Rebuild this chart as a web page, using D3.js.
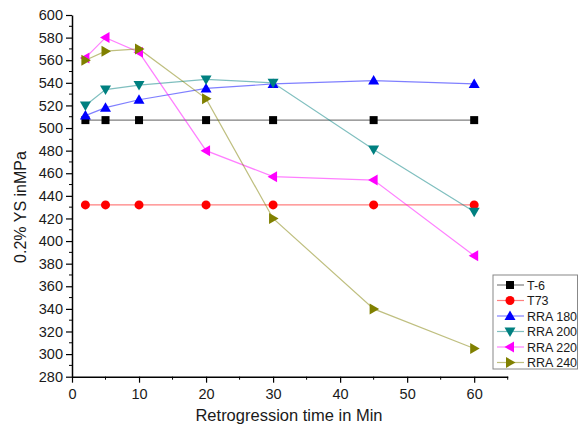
<!DOCTYPE html>
<html>
<head>
<meta charset="utf-8">
<script src="https://cdn.jsdelivr.net/npm/d3@7"></script>
<style>
  body { margin: 0; background: #fff; }
  text { font-family: "Liberation Sans", Arial, sans-serif; fill: #1a1a1a; }
</style>
</head>
<body>
<div id="container"></div>
<script>
let times = [2, 5, 10, 20, 30, 45, 60]
let t6 = [507, 507, 507, 507, 507, 507, 507]
let t73 = [432, 432, 432, 432, 432, 432, 432]
let rra180 = [511, 518, 525, 535, 539, 542, 539]
let rra200 = [520, 534, 538, 543, 540, 481, 426]
let rra220 = [562, 580, 567, 480, 457, 454, 387]
let rra240 = [560, 568, 570, 526, 420, 340, 305]
let seriesNames = ['T-6', 'T73', 'RRA 180', 'RRA 200', 'RRA 220', 'RRA 240']
let xTicks = [0, 10, 20, 30, 40, 50, 60]
let yTicks = d3.range(280, 601, 20)

let series = [
  { name: seriesNames[0], values: t6, color: '#000000', shape: 'square' },
  { name: seriesNames[1], values: t73, color: '#ff0000', shape: 'circle' },
  { name: seriesNames[2], values: rra180, color: '#0000ff', shape: 'up' },
  { name: seriesNames[3], values: rra200, color: '#008080', shape: 'down' },
  { name: seriesNames[4], values: rra220, color: '#ff00ff', shape: 'left' },
  { name: seriesNames[5], values: rra240, color: '#808000', shape: 'right' }
]

let width = 580, height = 432
let svg = d3.select('#container').append('svg')
  .attr('width', width)
  .attr('height', height)

// scales
let x = d3.scaleLinear().domain([0, 65]).range([72, 507.7])
let y = d3.scaleLinear().domain([280, 600]).range([376.7, 15])

// y axis
let yAxis = svg.append('g').attr('transform', 'translate(' + x(0) + ',0)')
yAxis.call(d3.axisLeft(y).tickValues(yTicks).tickSize(6).tickSizeOuter(0).tickPadding(3))
yAxis.selectAll('.minor').data(d3.range(290, 600, 20)).enter().append('line')
  .attr('x1', 0).attr('x2', -3)
  .attr('y1', d => y(d)).attr('y2', d => y(d))
  .attr('stroke', '#000')

// x axis
let xAxis = svg.append('g').attr('transform', 'translate(0,' + y(280) + ')')
xAxis.call(d3.axisBottom(x).tickValues(xTicks).tickSize(6).tickSizeOuter(0).tickPadding(6))
xAxis.selectAll('.minor').data([5, 15, 25, 35, 45, 55, 65]).enter().append('line')
  .attr('x1', d => x(d)).attr('x2', d => x(d))
  .attr('y1', 0).attr('y2', 3)
  .attr('stroke', '#000')

svg.selectAll('.domain').attr('stroke-width', 1.5)
svg.selectAll('.tick line').attr('stroke-width', 1.2)
svg.selectAll('.tick text').style('font-size', '14.5px').attr('fill', '#1a1a1a')

// axis titles
svg.append('text')
  .attr('x', 289).attr('y', 421)
  .attr('text-anchor', 'middle')
  .style('font-size', '16.5px')
  .text('Retrogression time in Min')

svg.append('text')
  .attr('transform', 'translate(26,207) rotate(-90)')
  .attr('text-anchor', 'middle')
  .style('font-size', '16px')
  .text('0.2% YS inMPa')

// markers
function marker(sel, shape, color) {
  if (shape === 'square') {
    sel.append('rect').attr('x', -4).attr('y', -4).attr('width', 8).attr('height', 8).attr('fill', color)
  } else if (shape === 'circle') {
    sel.append('circle').attr('r', 4.5).attr('fill', color)
  } else {
    let rot = { up: 0, down: 180, left: -90, right: 90 }[shape]
    sel.append('path')
      .attr('d', 'M0,-5.5 L5.5,4 L-5.5,4 Z')
      .attr('transform', 'rotate(' + rot + ')')
      .attr('fill', color)
  }
}

let line = d3.line()
  .x((d, i) => x(times[i]))
  .y(d => y(d))

series.forEach(function (s) {
  svg.append('path')
    .datum(s.values)
    .attr('d', line)
    .attr('fill', 'none')
    .attr('stroke', s.color)
    .attr('stroke-opacity', 0.5)
    .attr('stroke-width', 1.2)
})

series.forEach(function (s) {
  svg.append('g').selectAll('g')
    .data(s.values).enter().append('g')
    .attr('transform', (d, i) => 'translate(' + x(times[i]) + ',' + y(d) + ')')
    .each(function () { marker(d3.select(this), s.shape, s.color) })
})

// legend
let lg = svg.append('g').attr('transform', 'translate(493,275)')
lg.append('rect')
  .attr('width', 84.5).attr('height', 94)
  .attr('fill', '#fff').attr('stroke', '#888')
series.forEach(function (s, i) {
  let row = lg.append('g').attr('transform', 'translate(0,' + (10 + i * 15.5) + ')')
  row.append('line').attr('x1', 4).attr('x2', 31).attr('stroke', s.color).attr('stroke-opacity', 0.5).attr('stroke-width', 1.2)
  let m = row.append('g').attr('transform', 'translate(17,0)')
  marker(m, s.shape, s.color)
  row.append('text').attr('x', 34).attr('y', 4.5).style('font-size', '12.5px').text(s.name)
})
</script>
</body>
</html>
